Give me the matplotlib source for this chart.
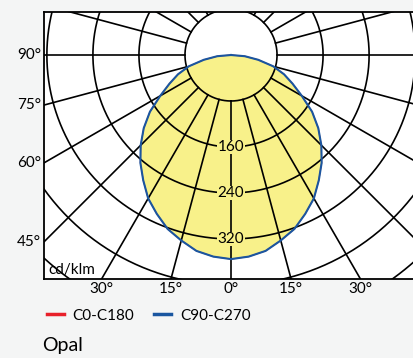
import numpy as np
import matplotlib
matplotlib.use('Agg')
import matplotlib.pyplot as plt

plt.rcParams['font.family'] = ['Lato', 'DejaVu Sans']

# intensidade (cd/klm) por angulo (graus a partir da vertical para baixo)
angulos = [0, 5, 10, 15, 20, 25, 30, 35, 40, 45, 50, 55, 60, 65, 70, 75, 80, 85, 90]
c0_c180 = [355, 352, 346, 334, 322, 305, 288, 266, 245, 222, 198, 172, 142, 118, 98, 76, 48, 24, 0]
c90_c270 = [355, 352, 346, 334, 322, 305, 288, 266, 245, 222, 198, 172, 142, 118, 98, 76, 48, 24, 0]

circulos = [80, 160, 240, 320, 400, 480, 560, 640]
raios_ang = list(range(0, 360, 15))
rotulos_circ = [160, 240, 320]
rotulos_esq = [90, 75, 60, 45]
rotulos_base = [-30, -15, 0, 15, 30]

AMARELO = '#f8f18a'
AZUL = '#1a56a0'
VERMELHO = '#e8202a'
FUNDO = '#f4f5f5'


def polar_xy(theta_graus, r):
    t = np.radians(np.asarray(theta_graus, dtype=float))
    r = np.asarray(r, dtype=float)
    return r * np.sin(t), -r * np.cos(t)


def curva_completa(valores):
    # espelha a curva para os dois lados
    th = np.concatenate([-np.array(angulos[::-1]), np.array(angulos[1:])])
    rr = np.concatenate([np.array(valores[::-1]), np.array(valores[1:])])
    return polar_xy(th, rr)


fig = plt.figure(figsize=(4.14, 3.58), dpi=100, facecolor=FUNDO)
ax = fig.add_axes([44 / 414, (358 - 279) / 358, (414 - 44) / 414, (279 - 12) / 358])
ax.set_facecolor('white')
xmin, xmax = -325, 318
ymin, ymax = -389.6, 74.8
ax.set_xlim(xmin, xmax)
ax.set_ylim(ymin, ymax)
ax.set_xticks([])
ax.set_yticks([])
ax.spines['right'].set_visible(False)
for s in ['top', 'left', 'bottom']:
    ax.spines[s].set_linewidth(1.3)

# area preenchida
xb, yb = curva_completa(c90_c270)
ax.fill(xb, yb, color=AMARELO, zorder=1, lw=0)

# grade polar
tt = np.linspace(0, 360, 721)
for r in circulos:
    x, y = polar_xy(tt, np.full_like(tt, r))
    ax.plot(x, y, color='black', lw=1.2, zorder=2)
for a in raios_ang:
    x, y = polar_xy([a, a], [circulos[0], 1000])
    ax.plot(x, y, color='black', lw=1.2, zorder=2)

# curvas (C0-C180 fica escondida sob C90-C270)
xr, yr = curva_completa(c0_c180)
ax.plot(xr, yr, color=VERMELHO, lw=0.8, zorder=3, label='C0-C180')
ax.plot(xb, yb, color=AZUL, lw=1.5, zorder=4, label='C90-C270')

for r in rotulos_circ:
    ax.text(0, -r, str(r), ha='center', va='center', fontsize=11, zorder=5,
            bbox=dict(facecolor=AMARELO, edgecolor='none', pad=0.3))

# rotulos de angulo
for a in rotulos_esq:
    y = xmin * np.cos(np.radians(a)) / np.sin(np.radians(a))
    ax.text(xmin - 5, y, f'{a}°', ha='right', va='center', fontsize=11, clip_on=False)
for a in rotulos_base:
    x = -ymin * np.tan(np.radians(a))
    ax.text(x, ymin - 5, f'{abs(a)}°', ha='center', va='top', fontsize=11, clip_on=False)

ax.text(xmin + 7, ymin + 3, 'cd/klm', ha='left', va='bottom', fontsize=11, zorder=5)

fig.legend(loc='upper left', bbox_to_anchor=(33 / 414, 1 - 295 / 358), ncol=2,
           frameon=False, fontsize=11, handlelength=1.1, handletextpad=0.6,
           columnspacing=1.3)
for h in fig.legends[0].get_lines():
    h.set_linewidth(2.5)

fig.text(42 / 414, 1 - 345 / 358, 'Opal', ha='left', va='center', fontsize=14)

fig.savefig('out.png', dpi=100, facecolor=FUNDO)
